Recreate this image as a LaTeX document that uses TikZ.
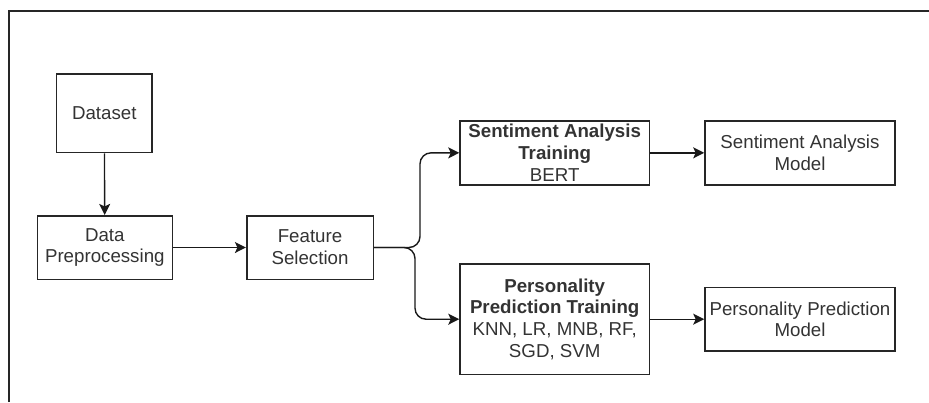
\documentclass[tikz,border=0pt]{standalone}
\usepackage{fontspec}
\setmainfont{Liberation Sans}
\usetikzlibrary{arrows.meta}
\begin{document}
\begin{tikzpicture}[x=1pt,y=-1pt,
  box/.style={draw=black!85, line width=1.6pt, align=center, inner sep=0pt,
    font=\fontsize{18.7}{21.7}\selectfont, text=black!80},
  arr/.style={draw=black!90, line width=1.4pt, -{Stealth[length=11pt,width=11pt,inset=2.5pt]}},
  splitarr/.style={arr, rounded corners=11pt}]
\useasboundingbox (0,0) rectangle (929,402);
\draw[line width=2pt, black!85] (9.3,402) -- (9.3,10.7) -- (929,10.7);

\node[box, minimum width=95.3pt, minimum height=78.7pt] (ds) at (104.3,113.3) {Dataset};
\node[box, minimum width=135pt, minimum height=63.6pt] (dp) at (104.8,247.5) {Data\\Preprocessing};
\node[box, minimum width=126.6pt, minimum height=63.6pt] (fs) at (310,247.5) {Feature\\Selection};
\node[box, minimum width=189.3pt, minimum height=63.7pt] (sat) at (554.7,152.85) {\textbf{Sentiment Analysis}\\\textbf{Training}\\BERT};
\node[box, minimum width=189.3pt, minimum height=110.3pt] (ppt) at (554.7,319.2) {\textbf{Personality}\\\textbf{Prediction Training}\\KNN, LR, MNB, RF,\\SGD, SVM};
\node[box, minimum width=190pt, minimum height=63.7pt] (sam) at (800,152.85) {Sentiment Analysis\\Model};
\node[box, minimum width=190pt, minimum height=63.4pt] (ppm) at (800,319.2) {Personality Prediction\\Model};

\coordinate (jt) at (420,247.5);
\coordinate (jb) at (415,247.5);

\draw[arr] (ds) -- (dp);
\draw[arr] (dp) -- (fs);
\draw[splitarr] (fs.east) -- (jt) |- (sat.west);
\draw[splitarr] (fs.east) -- (jb) |- (ppt.west);
\draw[arr] (sat) -- (sam);
\draw[arr] (ppt.east |- ppm.west) -- (ppm.west);
\end{tikzpicture}
\end{document}
